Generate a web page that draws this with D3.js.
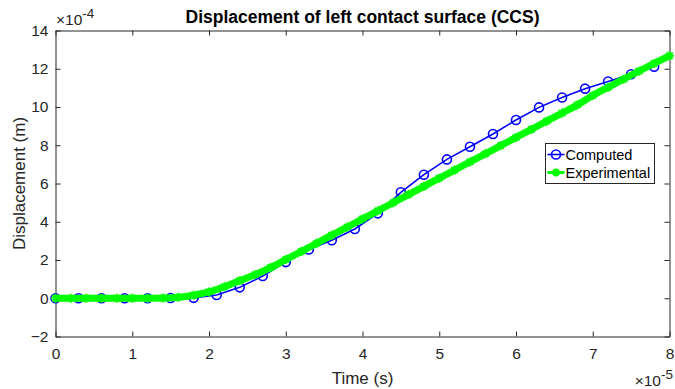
<!DOCTYPE html>
<html>
<head>
<meta charset="utf-8">
<script src="https://cdn.jsdelivr.net/npm/d3@7"></script>
<style>
  html, body { margin: 0; padding: 0; background: #fff; }
  svg { display: block; font-family: "Liberation Sans", Arial, Helvetica, sans-serif; }
</style>
</head>
<body>
<svg id="chart" width="675" height="389"></svg>
<script>
// Time in units of 1e-5 s, displacement in units of 1e-4 m
const computedTime = [0, 0.3, 0.6, 0.9, 1.2, 1.5, 1.8, 2.1, 2.4, 2.7, 3.0, 3.3, 3.6, 3.9,
  4.2, 4.5, 4.8, 5.1, 5.4, 5.7, 6.0, 6.3, 6.6, 6.9, 7.2, 7.5, 7.8];
const computedDisp = [0, 0, 0, 0, 0, 0.01, 0.02, 0.17, 0.57, 1.16, 1.89, 2.55, 3.03, 3.62,
  4.44, 5.54, 6.46, 7.26, 7.92, 8.59, 9.32, 9.98, 10.5, 10.96, 11.33, 11.71, 12.11];

const experimentalTime = [0, 0.2, 0.4, 0.6, 0.8, 1.0, 1.2, 1.4, 1.6, 1.8, 2.0, 2.2, 2.4, 2.6,
  2.8, 3.0, 3.2, 3.4, 3.6, 3.8, 4.0, 4.2, 4.4, 4.6, 4.8, 5.0, 5.2, 5.4, 5.6, 5.8, 6.0, 6.2,
  6.4, 6.6, 6.8, 7.0, 7.2, 7.4, 7.6, 7.8, 8.0];
const experimentalDisp = [0, 0, 0, 0, 0, 0, 0, 0.01, 0.05, 0.16, 0.33, 0.6, 0.92, 1.23,
  1.6, 2.02, 2.44, 2.87, 3.3, 3.72, 4.15, 4.57, 5.0, 5.42, 5.85, 6.28, 6.7, 7.13, 7.55, 7.98,
  8.41, 8.83, 9.26, 9.68, 10.11, 10.6, 11.03, 11.45, 11.87, 12.28, 12.68];

const xTicks = [0, 1, 2, 3, 4, 5, 6, 7, 8];
const yTicks = [-2, 0, 2, 4, 6, 8, 10, 12, 14];
const seriesNames = ['Computed', 'Experimental'];

const axisColor = '#262626';
const tickFont = 15.5;
const labelFont = 17;

const svg = d3.select('#chart');
const plot = { left: 55.5, right: 669.5, top: 30.5, bottom: 336.5 };

const x = d3.scaleLinear().domain([0, 8]).range([plot.left, plot.right]);
const y = d3.scaleLinear().domain([-2, 14]).range([plot.bottom, plot.top]);

// Axes with inward ticks on all four sides (MATLAB box on)
const tickLen = 5;
svg.append('g')
  .attr('transform', `translate(0,${plot.bottom})`)
  .call(d3.axisBottom(x).tickValues(xTicks).tickSizeInner(-tickLen).tickSizeOuter(0).tickPadding(10))
  .call(g => g.selectAll('text').attr('font-size', tickFont).attr('fill', axisColor).attr('dy', '0.8em'));
svg.append('g')
  .attr('transform', `translate(0,${plot.top})`)
  .call(d3.axisTop(x).tickValues(xTicks).tickSizeInner(-tickLen).tickSizeOuter(0).tickFormat(''));
svg.append('g')
  .attr('transform', `translate(${plot.left},0)`)
  .call(d3.axisLeft(y).tickValues(yTicks).tickSizeInner(-tickLen).tickSizeOuter(0).tickPadding(7))
  .call(g => g.selectAll('text').attr('font-size', tickFont).attr('fill', axisColor));
svg.append('g')
  .attr('transform', `translate(${plot.right},0)`)
  .call(d3.axisRight(y).tickValues(yTicks).tickSizeInner(-tickLen).tickSizeOuter(0).tickFormat(''));

svg.selectAll('.domain').attr('stroke', axisColor);
svg.selectAll('.tick line').attr('stroke', axisColor);
svg.selectAll('.tick text').attr('font-family', '"Liberation Sans", Arial, sans-serif');

// Asterisk marker like MATLAB '*'
function asterisk(cx, cy, r) {
  const d = r * 0.7071;
  return `M${cx - r},${cy}L${cx + r},${cy}M${cx},${cy - r}L${cx},${cy + r}` +
    `M${cx - d},${cy - d}L${cx + d},${cy + d}M${cx - d},${cy + d}L${cx + d},${cy - d}`;
}

const line = d3.line().x(d => x(d[0])).y(d => y(d[1]));

// Computed series: blue line with circles
const computed = d3.zip(computedTime, computedDisp);
svg.append('path')
  .datum(computed)
  .attr('d', line)
  .attr('fill', 'none')
  .attr('stroke', '#0000ff')
  .attr('stroke-width', 1.6);
svg.append('g').selectAll('circle')
  .data(computed)
  .join('circle')
  .attr('cx', d => x(d[0]))
  .attr('cy', d => y(d[1]))
  .attr('r', 4.5)
  .attr('fill', 'none')
  .attr('stroke', '#0000ff')
  .attr('stroke-width', 1.6);

// Experimental series: thick green line with dense asterisks
const experimental = d3.zip(experimentalTime, experimentalDisp);
svg.append('path')
  .datum(experimental)
  .attr('d', line.curve(d3.curveMonotoneX))
  .attr('fill', 'none')
  .attr('stroke', '#00ff00')
  .attr('stroke-width', 7)
  .attr('stroke-linejoin', 'round');
svg.append('path')
  .attr('d', experimental.map(d => asterisk(x(d[0]), y(d[1]), 4.5)).join(''))
  .attr('fill', 'none')
  .attr('stroke', '#00ff00')
  .attr('stroke-width', 2);

// Title and labels
svg.append('text')
  .attr('x', (plot.left + plot.right) / 2)
  .attr('y', 23)
  .attr('text-anchor', 'middle')
  .attr('font-size', 17.5)
  .attr('font-weight', 'bold')
  .attr('fill', '#000')
  .text('Displacement of left contact surface (CCS)');

svg.append('text')
  .attr('x', (plot.left + plot.right) / 2)
  .attr('y', 384)
  .attr('text-anchor', 'middle')
  .attr('font-size', labelFont)
  .attr('fill', axisColor)
  .text('Time (s)');

svg.append('text')
  .attr('transform', `translate(25,${(plot.top + plot.bottom) / 2}) rotate(-90)`)
  .attr('text-anchor', 'middle')
  .attr('font-size', labelFont)
  .attr('fill', axisColor)
  .text('Displacement (m)');

// Exponent labels
function exponent(xPos, yPos, power, anchor) {
  const t = svg.append('text')
    .attr('x', xPos)
    .attr('y', yPos)
    .attr('text-anchor', anchor)
    .attr('font-size', tickFont)
    .attr('fill', axisColor);
  t.append('tspan').text('\u00d710');
  t.append('tspan').attr('dy', -7).attr('font-size', 13.5).text(power);
}
exponent(56, 25, '-4', 'start');
exponent(673, 386, '-5', 'end');

// Legend
const legend = svg.append('g').attr('transform', 'translate(545.5,143.5)');
legend.append('rect')
  .attr('width', 109)
  .attr('height', 40)
  .attr('fill', '#fff')
  .attr('stroke', axisColor);

const rows = legend.selectAll('g.row')
  .data(seriesNames)
  .join('g')
  .attr('class', 'row')
  .attr('transform', (d, i) => `translate(0,${11 + i * 18})`);

rows.append('line')
  .attr('x1', 2).attr('x2', 19)
  .attr('stroke', (d, i) => i === 0 ? '#0000ff' : '#00ff00')
  .attr('stroke-width', (d, i) => i === 0 ? 1.6 : 3);
rows.filter((d, i) => i === 0).append('circle')
  .attr('cx', 10.5).attr('r', 4.5)
  .attr('fill', 'none').attr('stroke', '#0000ff').attr('stroke-width', 1.6);
rows.filter((d, i) => i === 1).append('path')
  .attr('d', asterisk(10.5, 0, 4))
  .attr('stroke', '#00ff00').attr('stroke-width', 2.5);
rows.append('text')
  .attr('x', 20)
  .attr('dy', '0.36em')
  .attr('font-size', 14.5)
  .attr('fill', '#000')
  .text(d => d);
</script>
</body>
</html>
